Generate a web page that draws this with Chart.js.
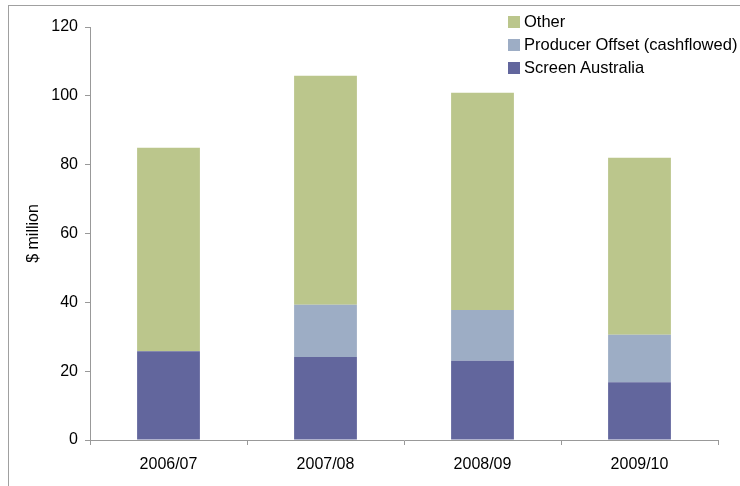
<!DOCTYPE html>
<html>
<head>
<meta charset="utf-8">
<script src="https://cdn.jsdelivr.net/npm/chart.js@4"></script>
<style>
  html, body { margin: 0; padding: 0; background: #fff; }
  #wrap { position: relative; width: 740px; height: 486px; overflow: hidden; }
  #frame { position: absolute; left: 8px; top: 5px; width: 800px; height: 600px;
           border-left: 1px solid #a0a0a0; border-top: 1px solid #a0a0a0; }
  canvas { position: absolute; left: 0; top: 0; }
  #legend { position: absolute; left: 508px; top: 10px; font: 16.5px "Liberation Sans", Arial, sans-serif; color: #000; }
  #legend div { height: 23px; line-height: 22px; white-space: nowrap; }
  #legend span { display: inline-block; width: 12px; height: 12px; margin-right: 4px; vertical-align: -1px; }
</style>
</head>
<body>
<div id="wrap">
  <div id="frame"></div>
  <canvas id="chart" width="740" height="486"></canvas>
  <div id="legend"></div>
</div>
<script>
const years = ['2006/07', '2007/08', '2008/09', '2009/10'];
const screenAustralia = [25.8, 24.1, 23.0, 16.8];
const producerOffset = [0, 15.2, 14.8, 13.8];
const other = [59.1, 66.5, 63.1, 51.4];
const yTicks = [0, 20, 40, 60, 80, 100, 120];

const colors = {
  sa: '#62669d',
  po: '#9dadc5',
  other: '#bbc68c',
};

const font = { family: '"Liberation Sans", Arial, sans-serif', size: 16 };

const datasets = [
  { label: 'Screen Australia', data: screenAustralia, backgroundColor: colors.sa },
  { label: 'Producer Offset (cashflowed)', data: producerOffset, backgroundColor: colors.po },
  { label: 'Other', data: other, backgroundColor: colors.other },
];

// legend in reverse stacking order, like the original
document.getElementById('legend').innerHTML = datasets.slice().reverse()
  .map(d => `<div><span style="background:${d.backgroundColor}"></span>${d.label}</div>`)
  .join('');

new Chart(document.getElementById('chart'), {
  type: 'bar',
  data: {
    labels: years,
    datasets: datasets.map(d => ({
      ...d,
      barPercentage: 0.4,
      categoryPercentage: 1,
      borderWidth: 0,
    })),
  },
  options: {
    responsive: false,
    animation: false,
    layout: { padding: { left: 0, top: 27, right: 22, bottom: 0 } },
    plugins: {
      legend: { display: false },
      tooltip: { enabled: false },
    },
    scales: {
      x: {
        stacked: true,
        grid: { drawOnChartArea: false, drawTicks: true, tickLength: 5, color: '#999', offset: true },
        border: { color: '#999' },
        ticks: { color: '#000', font, padding: 10 },
        afterFit: (s) => { s.height = 46; },
      },
      y: {
        stacked: true,
        min: 0,
        max: 120,
        afterBuildTicks: (s) => { s.ticks = yTicks.map(v => ({ value: v })); },
        grid: { drawOnChartArea: false, drawTicks: true, tickLength: 5, color: '#999' },
        border: { color: '#999' },
        ticks: { color: '#000', font, padding: 7 },
        title: { display: true, text: '$ million', color: '#000', font, padding: { top: 24, bottom: 0 } },
        afterFit: (s) => { s.width = 90; },
      },
    },
  },
});
</script>
</body>
</html>
